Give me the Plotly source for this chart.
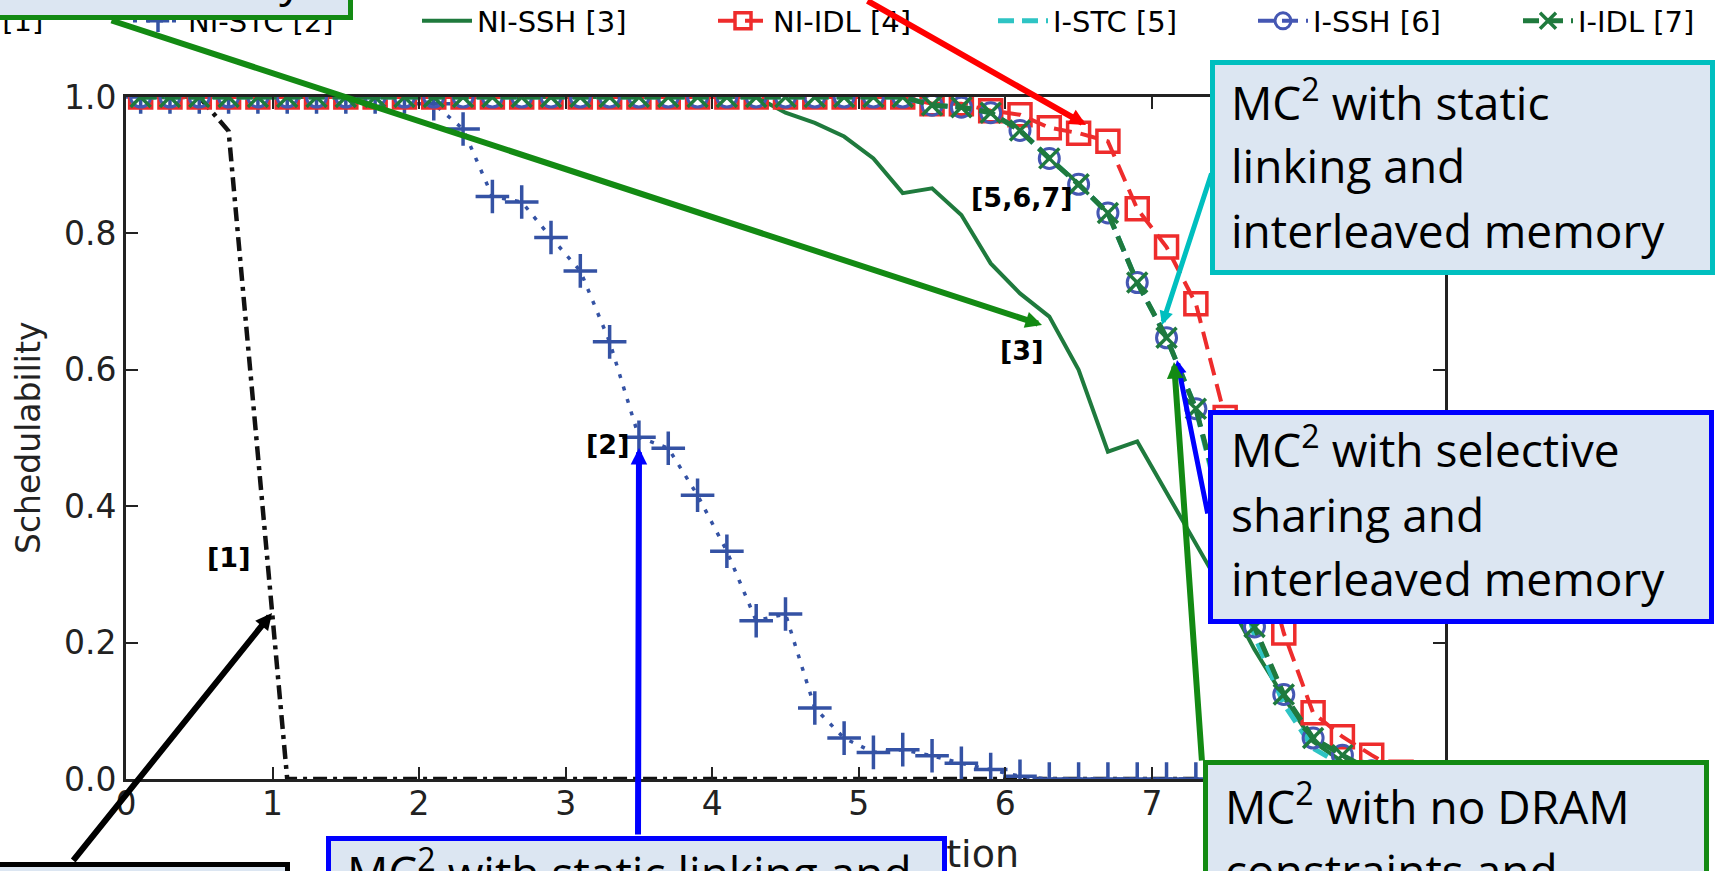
import plotly.graph_objects as go

# ---------------- data ----------------
x_util = [0.1, 0.3, 0.5, 0.7, 0.9, 1.1, 1.3, 1.5, 1.7, 1.9,
          2.1, 2.3, 2.5, 2.7, 2.9, 3.1, 3.3, 3.5, 3.7, 3.9,
          4.1, 4.3, 4.5, 4.7, 4.9, 5.1, 5.3, 5.5, 5.7, 5.9,
          6.1, 6.3, 6.5, 6.7, 6.9, 7.1, 7.3, 7.5, 7.7, 7.9,
          8.1, 8.3, 8.5, 8.7, 8.9]

sched_base = [1.0, 1.0, 1.0, 0.95, 0.48, 0.0, 0.0, 0.0, 0.0, 0.0,
              0.0, 0.0, 0.0, 0.0, 0.0, 0.0, 0.0, 0.0, 0.0, 0.0,
              0.0, 0.0, 0.0, 0.0, 0.0, 0.0, 0.0, 0.0, 0.0, 0.0,
              0.0, 0.0, 0.0, 0.0, 0.0, 0.0, 0.0, 0.0, 0.0, 0.0,
              0.0, 0.0, 0.0, 0.0, 0.0]

sched_ni_stc = [1.0, 1.0, 1.0, 1.0, 1.0, 1.0, 1.0, 1.0, 1.0, 1.0,
                0.99, 0.953, 0.854, 0.846, 0.794, 0.745, 0.641, 0.501, 0.485, 0.416,
                0.334, 0.232, 0.242, 0.104, 0.060, 0.039, 0.043, 0.034, 0.023, 0.014,
                0.004, 0.0, 0.0, 0.0, 0.0, 0.0, 0.0, 0.0, 0.0, 0.0,
                0.0, 0.0, 0.0, 0.0, 0.0]

sched_ni_ssh = [1.0, 1.0, 1.0, 1.0, 1.0, 1.0, 1.0, 1.0, 1.0, 1.0,
                1.0, 1.0, 1.0, 1.0, 1.0, 1.0, 1.0, 1.0, 1.0, 1.0,
                1.0, 1.0, 0.977, 0.962, 0.942, 0.91, 0.859, 0.866, 0.827, 0.756,
                0.712, 0.678, 0.60, 0.48, 0.495, 0.42, 0.345, 0.27, 0.19, 0.12,
                0.055, 0.025, 0.008, 0.0, 0.0]

sched_ni_idl = [1.0, 1.0, 1.0, 1.0, 1.0, 1.0, 1.0, 1.0, 1.0, 1.0,
                1.0, 1.0, 1.0, 1.0, 1.0, 1.0, 1.0, 1.0, 1.0, 1.0,
                1.0, 1.0, 1.0, 1.0, 1.0, 1.0, 1.0, 0.99, 0.99, 0.98,
                0.974, 0.955, 0.947, 0.935, 0.836, 0.78, 0.697, 0.53, 0.37, 0.214,
                0.097, 0.062, 0.035, 0.01, 0.0]

sched_i_stc = [1.0, 1.0, 1.0, 1.0, 1.0, 1.0, 1.0, 1.0, 1.0, 1.0,
               1.0, 1.0, 1.0, 1.0, 1.0, 1.0, 1.0, 1.0, 1.0, 1.0,
               1.0, 1.0, 1.0, 1.0, 1.0, 1.0, 1.0, 0.988, 0.985, 0.977,
               0.951, 0.91, 0.872, 0.83, 0.728, 0.647, 0.543, 0.37, 0.21, 0.11,
               0.045, 0.02, 0.005, 0.0, 0.0]

sched_i_ssh = [1.0, 1.0, 1.0, 1.0, 1.0, 1.0, 1.0, 1.0, 1.0, 1.0,
               1.0, 1.0, 1.0, 1.0, 1.0, 1.0, 1.0, 1.0, 1.0, 1.0,
               1.0, 1.0, 1.0, 1.0, 1.0, 1.0, 1.0, 0.988, 0.985, 0.977,
               0.951, 0.91, 0.872, 0.83, 0.728, 0.647, 0.543, 0.38, 0.223, 0.124,
               0.060, 0.035, 0.012, 0.0, 0.0]

sched_i_idl = [1.0, 1.0, 1.0, 1.0, 1.0, 1.0, 1.0, 1.0, 1.0, 1.0,
               1.0, 1.0, 1.0, 1.0, 1.0, 1.0, 1.0, 1.0, 1.0, 1.0,
               1.0, 1.0, 1.0, 1.0, 1.0, 1.0, 1.0, 0.988, 0.985, 0.977,
               0.951, 0.91, 0.872, 0.83, 0.728, 0.647, 0.543, 0.38, 0.223, 0.124,
               0.060, 0.035, 0.012, 0.0, 0.0]

series_names = ["Baseline [1]", "NI-STC [2]", "NI-SSH [3]", "NI-IDL [4]",
                "I-STC [5]", "I-SSH [6]", "I-IDL [7]"]
x_ticks = [0, 1, 2, 3, 4, 5, 6, 7, 8, 9]
y_ticks = [0.0, 0.2, 0.4, 0.6, 0.8, 1.0]

# ---------------- layout helpers ----------------
W, H = 1720, 871
L, R, T, B = 126, 1445, 97, 779


def px(xp):
    return (xp - L) / (R - L)


def py(yp):
    return (B - yp) / (B - T)


FILL = "#dce6f2"
TXT_FONT = "Open Sans"
TXT_SIZE = 46
DESC = 0.293 * TXT_SIZE

C_BLK = "#111111"
C_BLUE = "#3452a4"
C_GRN = "#1f7a3d"
C_RED = "#ee2c2c"
C_CYAN = "#2ec4c4"
C_CIRC = "#4557b3"

fig = go.Figure()

fig.add_trace(go.Scatter(
    x=x_util, y=sched_base, mode="lines", name=series_names[0],
    line=dict(color=C_BLK, width=4.5, dash="14px,6px,4px,6px"),
    showlegend=False))

fig.add_trace(go.Scatter(
    x=x_util, y=sched_ni_stc, mode="lines+markers", name=series_names[1],
    line=dict(color=C_BLUE, width=3.5, dash="4px,9px"),
    marker=dict(symbol="cross-thin-open", size=24, color=C_BLUE,
                line=dict(width=3.5, color=C_BLUE)),
    legend="legend", legendwidth=224))

fig.add_trace(go.Scatter(
    x=x_util, y=sched_ni_ssh, mode="lines", name=series_names[2],
    line=dict(color=C_GRN, width=4),
    legend="legend", legendwidth=231))

fig.add_trace(go.Scatter(
    x=x_util, y=sched_ni_idl, mode="lines+markers", name=series_names[3],
    line=dict(color=C_RED, width=4, dash="18px,9px"),
    marker=dict(symbol="square-open", size=22, color=C_RED,
                line=dict(width=3.5, color=C_RED)),
    legend="legend", legendwidth=150))

fig.add_trace(go.Scatter(
    x=x_util, y=sched_i_stc, mode="lines", name=series_names[4],
    line=dict(color=C_CYAN, width=5, dash="16px,8px"),
    legend="legend2", legendwidth=195))

fig.add_trace(go.Scatter(
    x=x_util, y=sched_i_ssh, mode="lines+markers", name=series_names[5],
    line=dict(color=C_CIRC, width=4, dash="16px,8px"),
    marker=dict(symbol="circle-open", size=20, color=C_CIRC,
                line=dict(width=3, color=C_CIRC)),
    legend="legend2", legendwidth=200))

fig.add_trace(go.Scatter(
    x=x_util, y=sched_i_idl, mode="lines+markers", name=series_names[6],
    line=dict(color=C_GRN, width=5, dash="16px,8px"),
    marker=dict(symbol="x-thin-open", size=20, color=C_GRN,
                line=dict(width=3.5, color=C_GRN)),
    legend="legend2", legendwidth=135))

axis_common = dict(
    showgrid=False, zeroline=False, showline=True, linewidth=3,
    linecolor="#222222", mirror="ticks", ticks="inside", ticklen=12,
    tickwidth=1.5, tickcolor="#222222",
    tickfont=dict(family="DejaVu Sans", size=33, color="#222222"),
)

legend_common = dict(
    orientation="h", xanchor="left", yanchor="middle", y=py(21),
    font=dict(family="DejaVu Sans", size=29, color="#000000"),
    bgcolor="rgba(0,0,0,0)", borderwidth=0, itemwidth=50,
)

fig.update_layout(
    width=W, height=H,
    margin=dict(l=L, r=W - R, t=T, b=H - B, pad=0, autoexpand=False),
    paper_bgcolor="white", plot_bgcolor="white",
    xaxis=dict(range=[0, 9], tickmode="array", tickvals=x_ticks,
               ticklabelstandoff=-7, **axis_common),
    yaxis=dict(range=[0, 1], tickmode="array", tickvals=y_ticks,
               ticktext=[f"{v:.1f}" for v in y_ticks],
               ticklabelstandoff=0, **axis_common),
    legend=dict(x=px(128), **legend_common),
    legend2=dict(x=px(993), **legend_common),
    showlegend=True,
)

ann = []

# axis titles (beneath the callout boxes)
ann.append(dict(xref="paper", yref="paper", x=px(1020), y=py(868 + 0.236 * 38),
                xanchor="right", yanchor="bottom", showarrow=False,
                text="Normalized Utilization", borderpad=0,
                font=dict(family="DejaVu Sans", size=38, color="#222222")))
ann.append(dict(xref="paper", yref="paper", x=px(28), y=0.5, textangle=-90,
                xanchor="center", yanchor="middle", showarrow=False,
                text="Schedulability", borderpad=0,
                font=dict(family="DejaVu Sans", size=33, color="#222222")))
# first legend entry (mostly off-canvas)
ann.append(dict(xref="paper", yref="paper", x=px(44), y=py(21),
                xanchor="right", yanchor="middle", showarrow=False,
                text=series_names[0], borderpad=0,
                font=dict(family="DejaVu Sans", size=29, color="#000000")))

# in-plot labels
label_texts = ["[1]", "[2]", "[3]", "[5,6,7]"]
label_pos = [(0.70, 0.325), (3.285, 0.491), (6.107, 0.628), (6.114, 0.853)]
for t, (lx, ly) in zip(label_texts, label_pos):
    ann.append(dict(xref="x", yref="y", x=lx, y=ly, text=f"<b>{t}</b>",
                    showarrow=False, xanchor="center", yanchor="middle",
                    font=dict(family="DejaVu Sans", size=27, color="#000000")))

# callout boxes: (left, top, right, bottom, border colour)
boxes = [
    (-152, -200, 353, 20, "#138a13"),
    (1210, 60, 1715, 275, "#00bfbf"),
    (1208, 410, 1714, 624, "#0000ff"),
    (1203, 760, 1709, 980, "#138a13"),
    (326, 836, 947, 1036, "#0000ff"),
    (-200, 862, 290, 1062, "#000000"),
]
BW = 5
for (bl, bt, br, bb, bc) in boxes:
    ann.append(dict(xref="paper", yref="paper", x=px(bl), y=py(bt),
                    xanchor="left", yanchor="top", showarrow=False,
                    text="&nbsp;", width=(br - bl) - 2 * BW,
                    height=(bb - bt) - 2 * BW, bgcolor=FILL,
                    bordercolor=bc, borderwidth=BW, borderpad=0))

# callout text lines: (left x, baseline y, text)
box_lines = [
    (-132, -3, "interleaved memory"),
    (1230, 121, "MC<sup>2</sup> with static"),
    (1230, 184, "linking and"),
    (1230, 249, "interleaved memory"),
    (1230, 468, "MC<sup>2</sup> with selective"),
    (1230, 533, "sharing and"),
    (1230, 597, "interleaved memory"),
    (1224, 825, "MC<sup>2</sup> with no DRAM"),
    (1224, 889, "constraints and"),
    (346, 891, "MC<sup>2</sup> with static linking and"),
]
for (tx, tb, tt) in box_lines:
    ann.append(dict(xref="paper", yref="paper", x=px(tx), y=py(tb + DESC),
                    xanchor="left", yanchor="bottom", showarrow=False,
                    text=tt, borderpad=0,
                    font=dict(family=TXT_FONT, size=TXT_SIZE, color="#000000")))

# arrows: (tip x, tip y, tail x, tail y, colour, width)
arrows = [
    (1042, 325, 110, 20, "#138a13", 6),
    (1086, 125, 866, -4, "#ff0000", 6),
    (1162, 325, 1212, 172, "#00bfbf", 5),
    (1177, 360, 1208, 515, "#0000ff", 5),
    (1174, 362, 1202, 762, "#138a13", 6),
    (639, 448, 638, 836, "#0000ff", 6),
    (272, 613, 72, 862, "#000000", 6),
]
for (hx, hy, sx, sy, c, w) in arrows:
    ann.append(dict(xref="paper", yref="paper", x=px(hx), y=py(hy),
                    ax=sx - hx, ay=sy - hy, axref="pixel", ayref="pixel",
                    text="", showarrow=True, arrowhead=2, arrowsize=0.55,
                    arrowwidth=w, arrowcolor=c, standoff=0))

fig.update_layout(annotations=ann)

fig.write_html("out.html",
               config={"displayModeBar": False},
               post_script="document.body.style.margin='0px';"
                           "document.body.style.overflow='hidden';")
